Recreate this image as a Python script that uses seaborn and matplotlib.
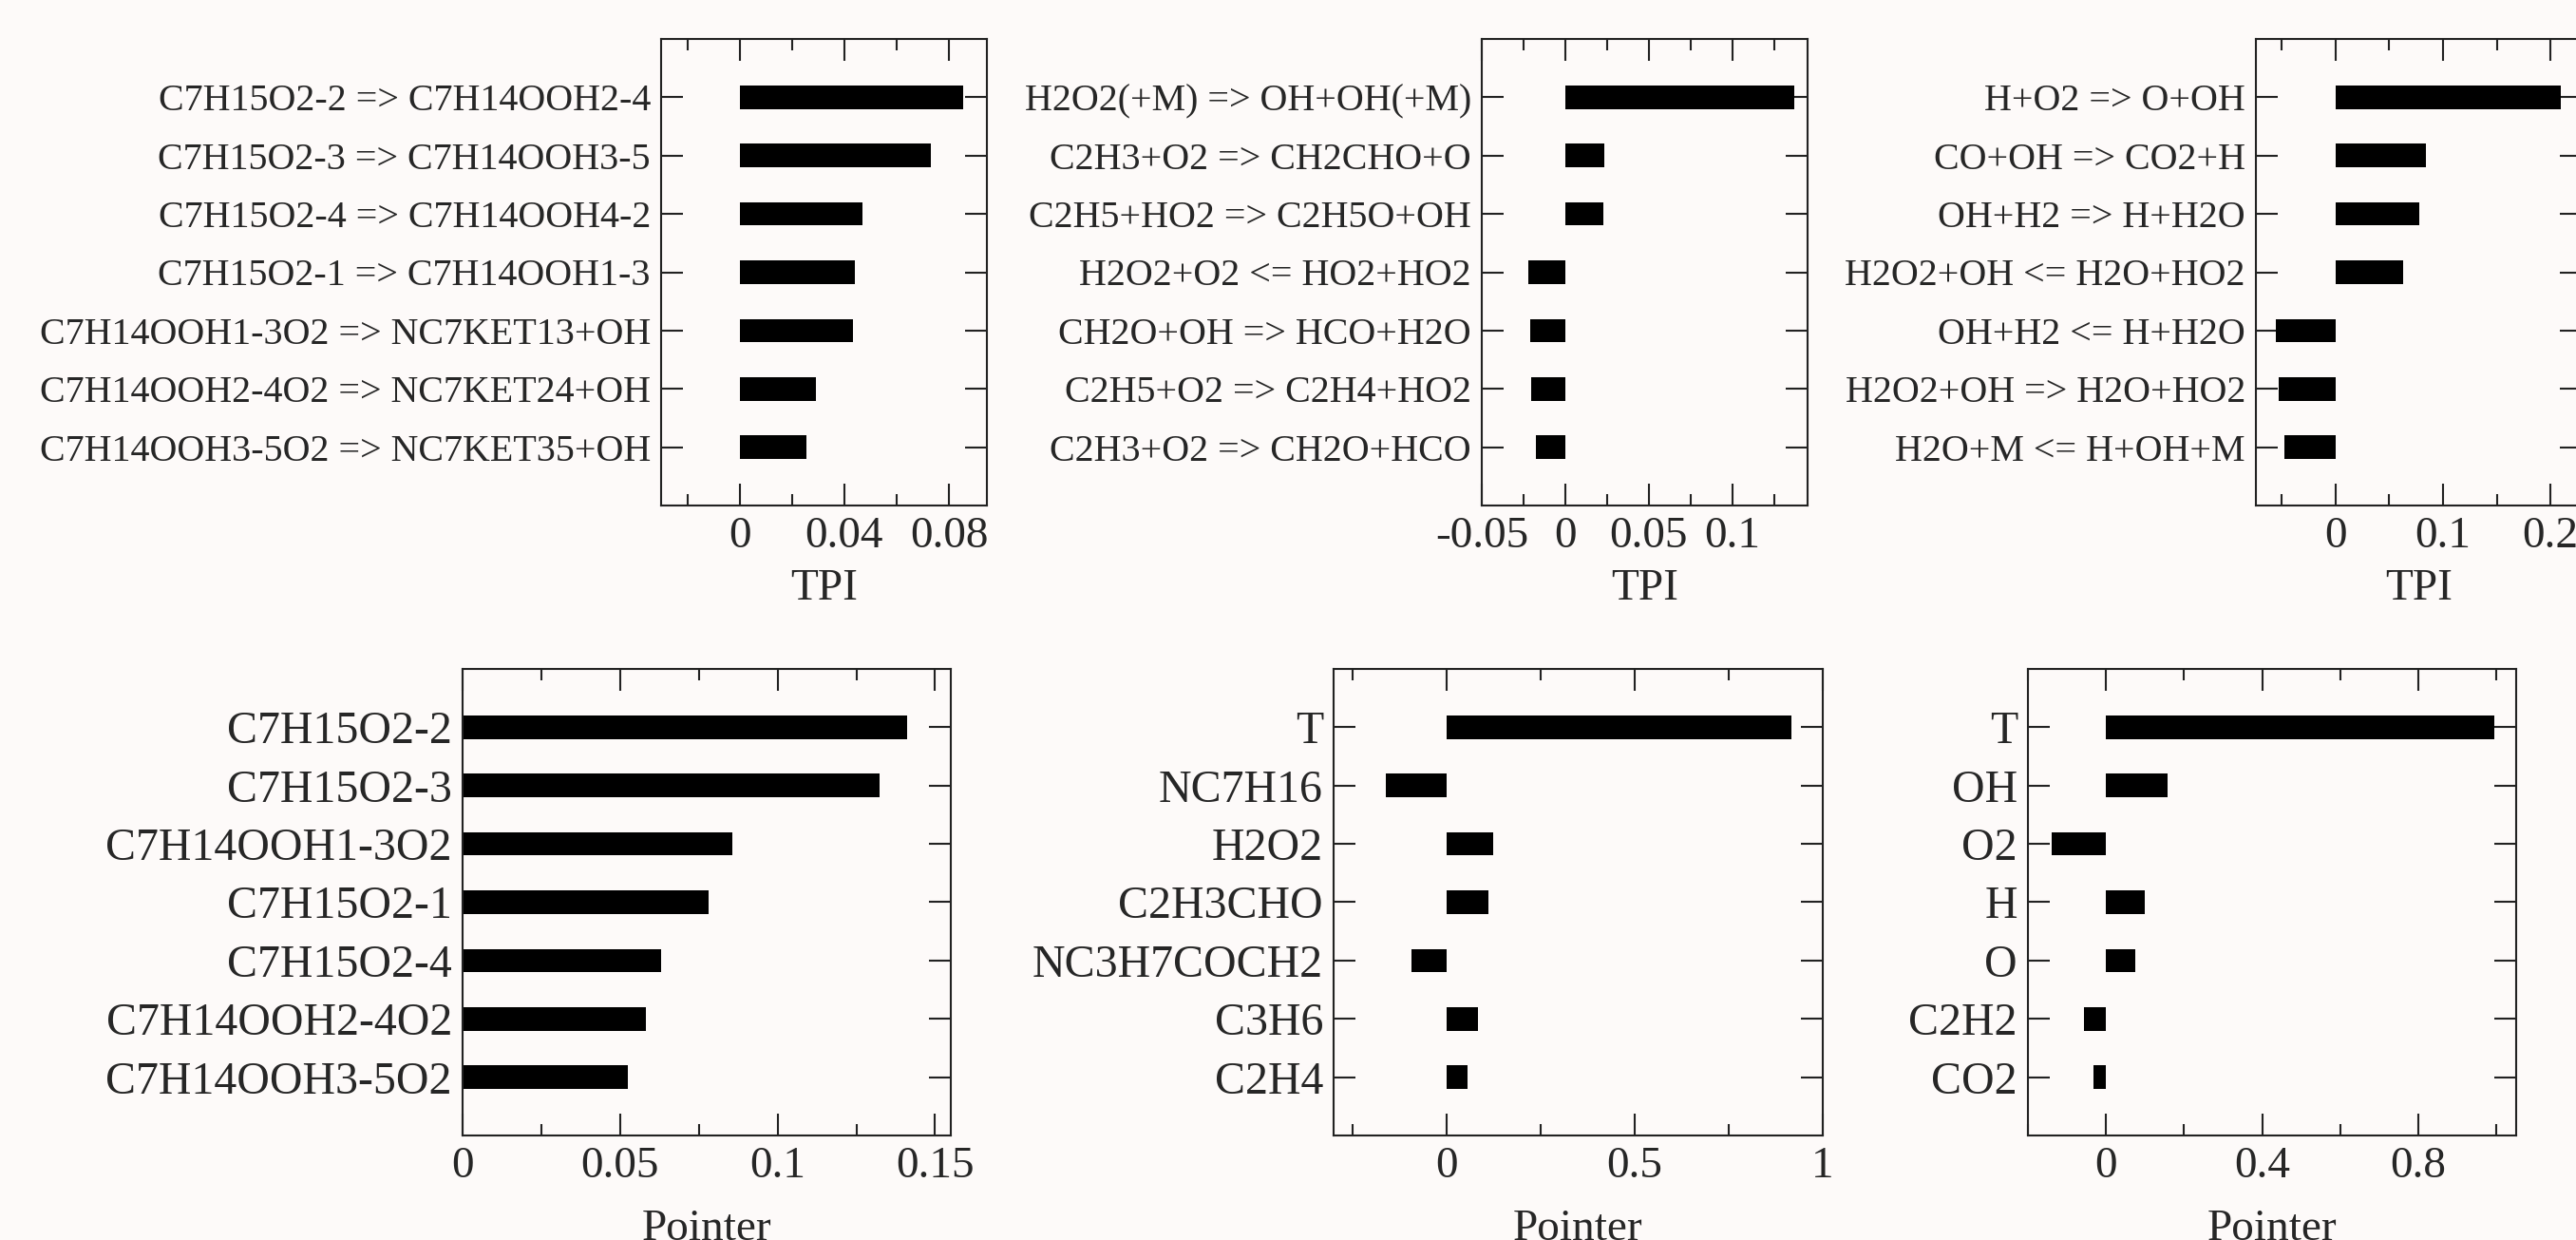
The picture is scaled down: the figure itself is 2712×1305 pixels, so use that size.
import matplotlib
matplotlib.use("Agg")
import matplotlib.pyplot as plt
from matplotlib.ticker import MultipleLocator, FixedLocator, FuncFormatter
import seaborn as sns
import pandas as pd

# ---------------- data ----------------
tpi1_labels = ["C7H15O2-2 => C7H14OOH2-4", "C7H15O2-3 => C7H14OOH3-5",
               "C7H15O2-4 => C7H14OOH4-2", "C7H15O2-1 => C7H14OOH1-3",
               "C7H14OOH1-3O2 => NC7KET13+OH", "C7H14OOH2-4O2 => NC7KET24+OH",
               "C7H14OOH3-5O2 => NC7KET35+OH"]
tpi1_values = [0.0853, 0.0730, 0.0470, 0.0439, 0.0434, 0.0291, 0.0257]

tpi2_labels = ["H2O2(+M) => OH+OH(+M)", "C2H3+O2 => CH2CHO+O",
               "C2H5+HO2 => C2H5O+OH", "H2O2+O2 <= HO2+HO2",
               "CH2O+OH => HCO+H2O", "C2H5+O2 => C2H4+HO2",
               "C2H3+O2 => CH2O+HCO"]
tpi2_values = [0.1368, 0.0235, 0.0228, -0.0221, -0.0212, -0.0205, -0.0176]

tpi3_labels = ["H+O2 => O+OH", "CO+OH => CO2+H", "OH+H2 => H+H2O",
               "H2O2+OH <= H2O+HO2", "OH+H2 <= H+H2O",
               "H2O2+OH => H2O+HO2", "H2O+M <= H+OH+M"]
tpi3_values = [0.2092, 0.0838, 0.0778, 0.0632, -0.0558, -0.0531, -0.0476]

ptr1_labels = ["C7H15O2-2", "C7H15O2-3", "C7H14OOH1-3O2", "C7H15O2-1",
               "C7H15O2-4", "C7H14OOH2-4O2", "C7H14OOH3-5O2"]
ptr1_values = [0.1411, 0.1323, 0.0857, 0.0782, 0.0631, 0.0581, 0.0526]

ptr2_labels = ["T", "NC7H16", "H2O2", "C2H3CHO", "NC3H7COCH2", "C3H6", "C2H4"]
ptr2_values = [0.917, -0.161, 0.125, 0.112, -0.093, 0.083, 0.057]

ptr3_labels = ["T", "OH", "O2", "H", "O", "C2H2", "CO2"]
ptr3_values = [0.994, 0.157, -0.138, 0.099, 0.074, -0.057, -0.031]

# ---------------- style ----------------
W, H = 2712, 1305
DPI = 100
BG = "#fdfaf9"
sns.set_style("ticks")
plt.rcParams["font.family"] = ["Liberation Serif", "DejaVu Serif"]
plt.rcParams["axes.edgecolor"] = "#222222"
plt.rcParams["axes.linewidth"] = 1.5

fig = plt.figure(figsize=(W / DPI, H / DPI), dpi=DPI, facecolor=BG)


def px_axes(left, right, top, bottom):
    return fig.add_axes([left / W, 1 - bottom / H, (right - left) / W, (bottom - top) / H])


panels = [
    # labels, values, rect(l, r, t, b), xlim, major ticks, minor step, xlabel, ylabel size, labelpad
    (tpi1_labels, tpi1_values, (696, 1039, 41, 532), (-0.03, 0.0945),
     [0, 0.04, 0.08], 0.02, "TPI", 28.8, 9),
    (tpi2_labels, tpi2_values, (1560, 1903, 41, 532), (-0.05, 0.145),
     [-0.05, 0, 0.05, 0.1], 0.025, "TPI", 28.8, 9),
    (tpi3_labels, tpi3_values, (2375, 2718, 41, 532), (-0.074, 0.229),
     [0, 0.1, 0.2], 0.05, "TPI", 28.8, 9),
    (ptr1_labels, ptr1_values, (487, 1001, 704, 1195), (0, 0.155),
     [0, 0.05, 0.1, 0.15], 0.025, "Pointer", 34.5, 17),
    (ptr2_labels, ptr2_values, (1404, 1919, 704, 1195), (-0.3, 1.0),
     [0, 0.5, 1], 0.25, "Pointer", 34.5, 17),
    (ptr3_labels, ptr3_values, (2135, 2649, 704, 1195), (-0.2, 1.05),
     [0, 0.4, 0.8], 0.2, "Pointer", 34.5, 17),
]

fmt = FuncFormatter(lambda v, p: ("%g" % round(v, 6)))

for labels, values, rect, xlim, majors, minor, xlabel, ysize, lpad in panels:
    ax = px_axes(*rect)
    ax.set_facecolor(BG)
    df = pd.DataFrame({"name": labels, "value": values})
    sns.barplot(data=df, x="value", y="name", orient="h", color="black",
                width=0.4, saturation=1, ax=ax, linewidth=0)
    n = len(labels)
    ax.set_ylim(n, -1)
    ax.set_xlim(*xlim)
    ax.xaxis.set_major_locator(FixedLocator(majors))
    ax.xaxis.set_minor_locator(MultipleLocator(minor))
    ax.xaxis.set_major_formatter(fmt)
    ax.tick_params(axis="both", which="both", direction="in", top=True, right=True,
                   color="#222222", width=1.5)
    ax.tick_params(axis="both", which="major", length=16.5)
    ax.tick_params(axis="x", which="minor", length=8.5)
    ax.tick_params(axis="y", which="minor", left=False, right=False)
    ax.tick_params(axis="x", labelsize=34, pad=8)
    ax.tick_params(axis="y", labelsize=ysize, pad=8)
    ax.set_ylabel("")
    ax.set_xlabel(xlabel, fontsize=34, labelpad=lpad)
    for s in ax.spines.values():
        s.set_visible(True)
        s.set_color("#222222")
        s.set_linewidth(1.5)

fig.savefig("out.png", dpi=DPI, facecolor=BG)
